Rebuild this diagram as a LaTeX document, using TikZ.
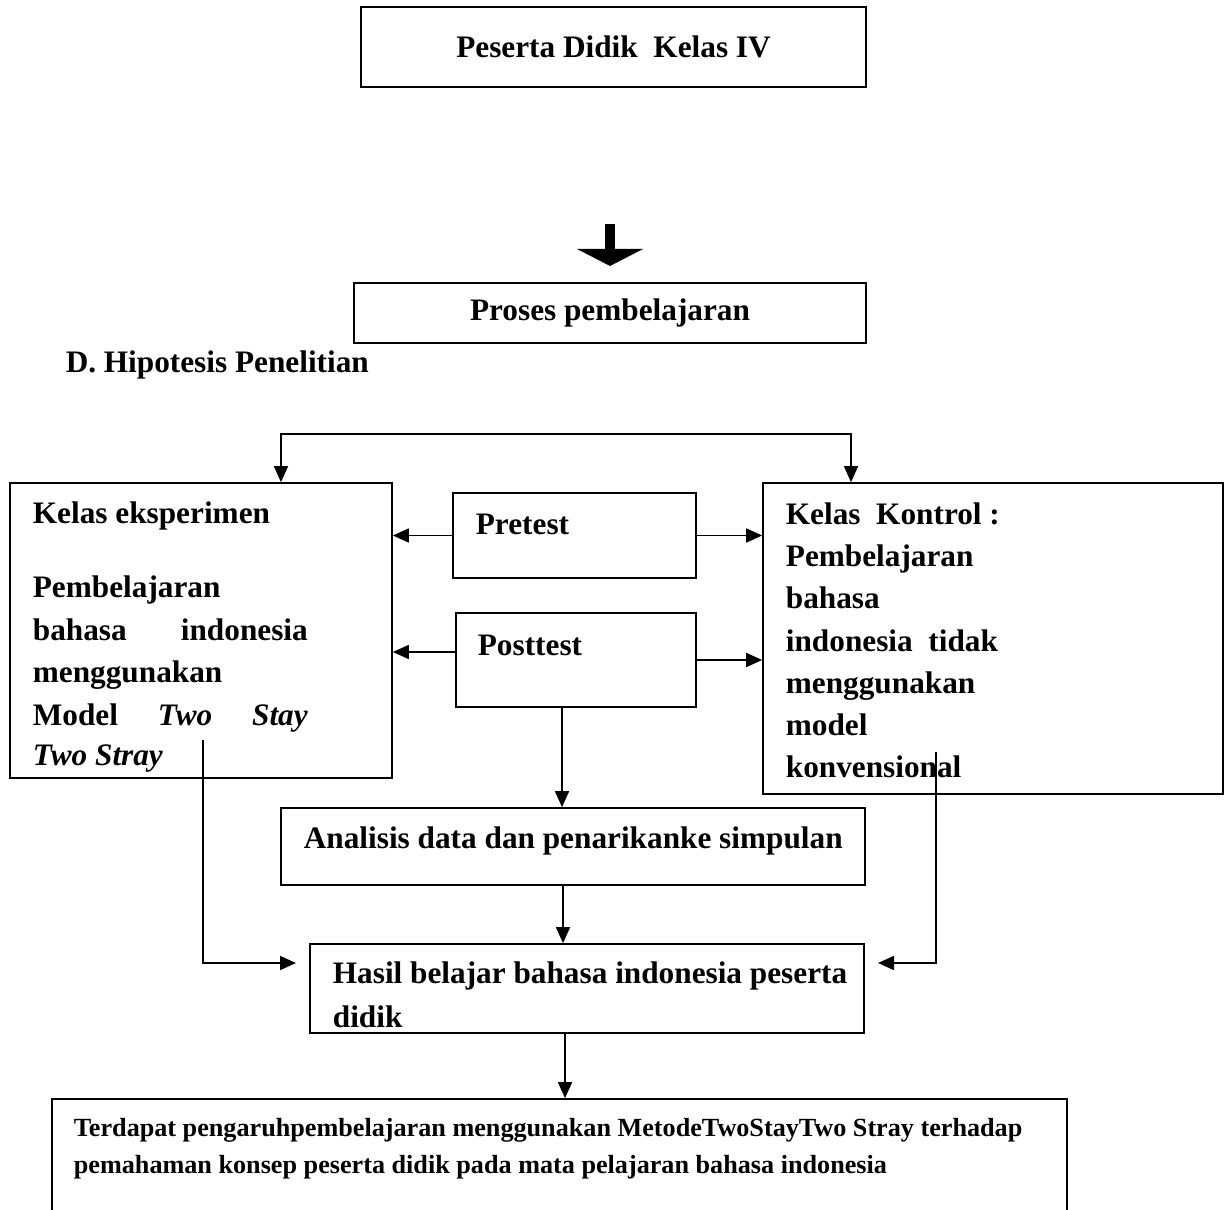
\documentclass[tikz,border=0pt]{standalone}
\usepackage{fontspec}
\setmainfont{Liberation Serif}
\usepackage{tikz}
\usetikzlibrary{positioning,arrows.meta,calc}

\begin{document}
\begin{tikzpicture}[x=0.02cm, y=-0.02cm, line width=1pt, >={Triangle[length=0.32cm, width=0.28cm]},
  box/.style={draw, inner sep=0pt, font=\bfseries\fontsize{17.8}{24}\selectfont},
  txt/.style={inner sep=0pt, anchor=base west, font=\bfseries\fontsize{17.8}{24}\selectfont},
  small/.style={inner sep=0pt, anchor=base west, font=\bfseries\fontsize{14.9}{20}\selectfont}]
\useasboundingbox (0,0) rectangle (1229,1209);
\clip (0,0) rectangle (1229,1209);
% boxes
\node[box, minimum width=10.1cm, minimum height=1.6cm] (pes) at (613.5,47) {Peserta Didik\ \ Kelas IV};
\node[box, minimum width=10.24cm, minimum height=1.2cm] (pro) at (610,313) {Proses pembelajaran};
\node[box, minimum width=7.64cm, minimum height=5.9cm] (eks) at (201,630.5) {};
\node[box, minimum width=4.86cm, minimum height=1.7cm] (pre) at (574.5,535.5) {};
\node[box, minimum width=4.8cm, minimum height=1.88cm] (post) at (576,660) {};
\node[box, minimum width=9.2cm, minimum height=6.22cm] (kon) at (993,638.5) {};
\node[box, minimum width=11.68cm, minimum height=1.54cm] (ana) at (573,846.5) {};
\node[box, minimum width=11.08cm, minimum height=1.78cm] (has) at (587,988.5) {};
\node[box, minimum width=20.3cm, minimum height=2.84cm] (kes) at (559.5,1170) {};
% texts
\node[txt] (hipD) at (65,372) {D.};
\node[txt] (hipT) at (103,372) {Hipotesis Penelitian};
\node[txt] (preT) at (475,534) {Pretest};
\node[txt] (postT) at (477,655) {Posttest};
\node[txt] (anaT) at (303,848) {Analisis data dan penarikanke simpulan};
\foreach \y/\lab [count=\i] in {523/{Kelas eksperimen}, 597/{Pembelajaran}, 640/{\makebox[5.5cm][s]{bahasa indonesia}},
  682/{menggunakan}, 725/{\makebox[5.5cm][s]{Model \textit{Two} \textit{Stay}}}, 765/{\textit{Two Stray}}}{
  \node[txt] (eksT\i) at (32,\y) {\lab};
}
\foreach \y/\lab [count=\i] in {524/{Kelas\ \ Kontrol\ :}, 566/{Pembelajaran}, 608/{bahasa}, 651/{indonesia\ \ tidak},
  693/{menggunakan}, 735/{model}, 777/{konvensional}}{
  \node[txt] (konT\i) at (785,\y) {\lab};
}
\node[txt] (hasT1) at (332,983) {Hasil belajar bahasa indonesia peserta};
\node[txt] (hasT2) at (332,1027) {didik};
\node[small] (kesT1) at (73,1136) {Terdapat pengaruhpembelajaran menggunakan MetodeTwoStayTwo Stray terhadap};
\node[small] (kesT2) at (73,1173) {pemahaman konsep peserta didik pada mata pelajaran bahasa indonesia};
% thick arrow
\fill (605,224) rectangle (615,251);
\fill (577,249) -- (643,249) -- (610,266) -- cycle;
% connectors
\coordinate (splitL) at (281,434);
\coordinate (splitR) at (851,434);
\draw[<->] (splitL |- eks.north) -- (splitL) -- (splitR) -- (splitR |- kon.north);
\draw[->] (pre.west) -- (pre.west -| eks.east);
\draw[->] (pre.east) -- (pre.east -| kon.west);
\draw[->] ([yshift=0.16cm]post.west) -- ([yshift=0.16cm]post.west -| eks.east);
\draw[->] (post.east) -- (post.east -| kon.west);
\draw[->] ([xshift=-0.28cm]post.south) -- ([xshift=-0.28cm]post.south |- ana.north);
\draw[->] ([xshift=-0.2cm]ana.south) -- ([xshift=-0.2cm]ana.south |- has.north);
\draw[->] ([xshift=-0.44cm]has.south) -- ([xshift=-0.44cm]has.south |- kes.north);
\coordinate (eksD) at (203,740);
\coordinate (hasL) at (296,963);
\draw[->] (eksD) |- (hasL);
\coordinate (konD) at (936,752);
\coordinate (hasR) at (878,963);
\draw[->] (konD) |- (hasR);
\end{tikzpicture}
\end{document}
